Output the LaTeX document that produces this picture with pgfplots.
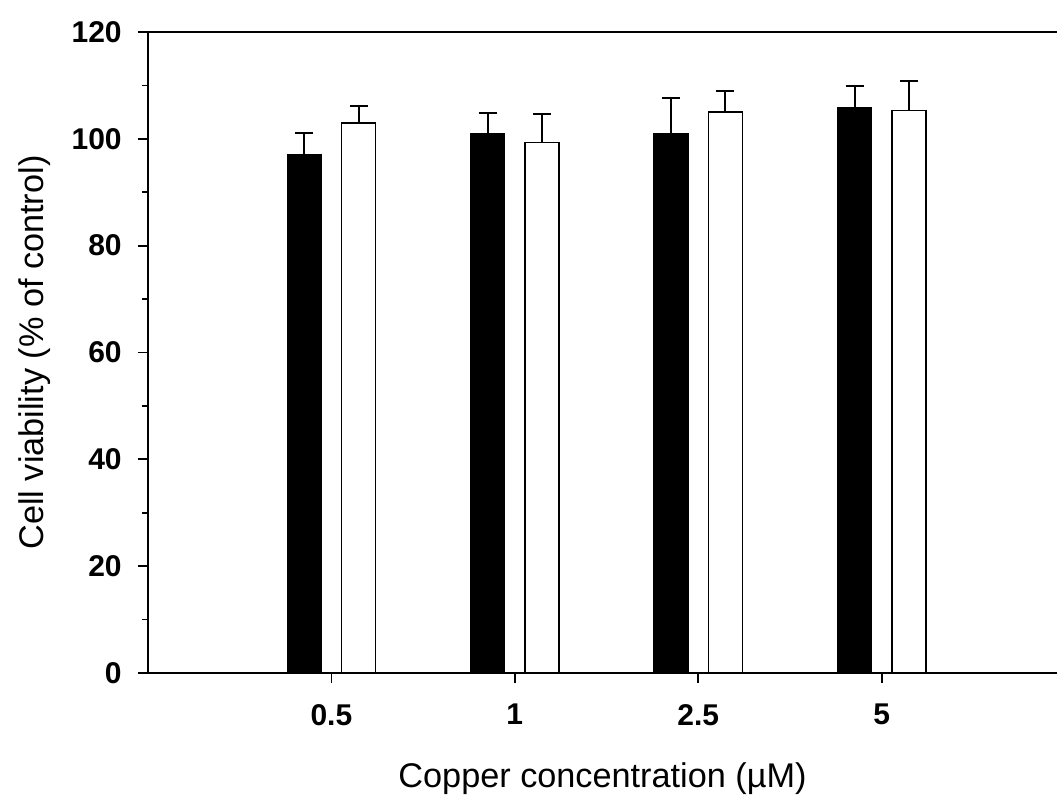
\documentclass[border=0pt]{standalone}
\usepackage{fontspec}
\setmainfont{Liberation Sans}
\usepackage{pgfplots}
\pgfplotsset{compat=1.18}
\usetikzlibrary{calc}

% data: x, mean, plus error
\pgfplotstableread{
x   y      e
1   97.1   4.0
2   100.9  3.9
3   100.9  6.8
4   105.9  4.0
}\blackdata
\pgfplotstableread{
x   y      e
1   103.0  3.1
2   99.3   5.3
3   105.0  3.9
4   105.3  5.5
}\whitedata

\begin{document}
\begin{tikzpicture}
\begin{axis}[
    name=ax,
    scale only axis,
    width=363.6pt, height=256.4pt,
    xmin=0, xmax=4.956,
    ymin=0, ymax=120,
    separate axis lines,
    axis x line*=box,
    axis y line*=left,
    axis line style={line width=0.8pt},
    xtick={1,2,3,4},
    xticklabels={0.5,1,2.5,5},
    xtick pos=bottom,
    ytick={0,20,...,120},
    minor y tick num=1,
    ytick pos=left,
    tick align=outside,
    major tick length=4pt,
    minor tick length=2.4pt,
    tick style={line width=0.7pt, black},
    /pgf/number format/assume math mode=true,
    ticklabel style={font=\fontsize{12}{14}\selectfont\bfseries},
    yticklabel style={xshift=-3pt},
    xticklabel style={yshift=-5pt},
    xlabel={Copper concentration (\textmu M)},
    ylabel={Cell viability (\% of control)},
    every axis x label/.style={at={(axis description cs:0.5,-0.179)}, anchor=base,
        font=\fontsize{13.7}{16}\selectfont},
    every axis y label/.style={at={(axis description cs:-0.1155,0.5)}, anchor=base, rotate=90,
        font=\fontsize{13.7}{16}\selectfont},
    ybar,
    bar width=0.185,
    error bars/y dir=plus,
    error bars/y explicit,
    error bars/error bar style={line width=0.8pt, black},
    error bars/error mark options={line width=0.8pt, black, mark size=3.6pt, rotate=90},
]
\addplot[fill=black, draw=black, line width=0.6pt, bar shift=-0.148]
    table[x=x, y=y, y error=e] {\blackdata};
\addplot[fill=white, draw=black, line width=0.6pt, bar shift=0.148]
    table[x=x, y=y, y error=e] {\whitedata};
\end{axis}
\pgfresetboundingbox
\path ($(ax.south west)+(-59.2pt,-50.8pt)$) rectangle ($(ax.north east)+(0pt,12.8pt)$);
\end{tikzpicture}
\end{document}
